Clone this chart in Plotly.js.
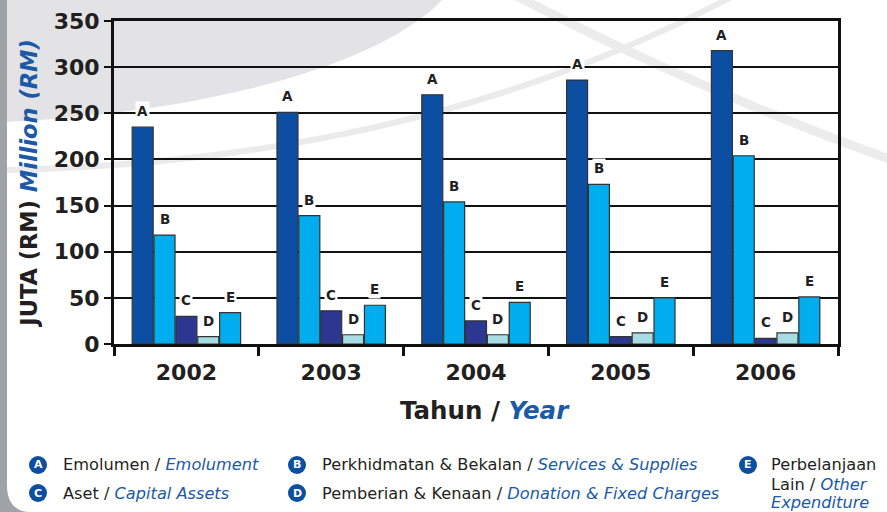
<!DOCTYPE html>
<html>
<head>
<meta charset="utf-8">
<script src="https://cdn.plot.ly/plotly-3.0.1.min.js"></script>
<style>html,body{margin:0;padding:0;background:#fff;}#chart{width:887px;height:512px;}</style>
</head>
<body>
<div id="chart"></div>
<script>
// ---- data ----
const years = ['2002', '2003', '2004', '2005', '2006'];
const letters = ['A', 'B', 'C', 'D', 'E'];
const valuesA = [235, 251, 270, 286, 318];
const valuesB = [118, 139, 154, 173, 204];
const valuesC = [30, 36, 25, 8, 6];
const valuesD = [8, 10, 10, 12, 12];
const valuesE = [34, 42, 45, 50, 51];
const namesMs = ['Emolumen', 'Perkhidmatan & Bekalan', 'Aset', 'Pemberian & Kenaan', 'Perbelanjaan<br>Lain'];
const namesEn = ['Emolument', 'Services & Supplies', 'Capital Assets', 'Donation & Fixed Charges', 'Other<br>Expenditure'];
const yTitleMs = 'JUTA (RM)';
const yTitleEn = 'Million (RM)';
const xTitleMs = 'Tahun';
const xTitleEn = 'Year';

// ---- style ----
const colors = ['#0c4ea2', '#00adee', '#2b3791', '#a8dce5', '#00adee'];
const blue = '#1a5aa8';
const ink = '#231f20';
const W = 887, H = 512, ML = 114, MR = 49, MT = 21, MB = 168;
const PW = W - ML - MR, PH = H - MT - MB;
const px = x => (x - ML) / PW;
const py = y => (H - MB - y) / PH;
const path = pts => pts.map(p => (typeof p === 'string') ? p : (px(p[0]).toFixed(4) + ',' + py(p[1]).toFixed(4))).join(' ');
const en = s => '<i><span style="color:' + blue + '">' + s + '</span></i>';

const allValues = [valuesA, valuesB, valuesC, valuesD, valuesE];
const bargap = 0.245, groupgap = 0.04;

const traces = allValues.map((vals, i) => ({
  type: 'bar',
  x: years,
  y: vals,
  name: letters[i],
  marker: {color: colors[i], line: {color: '#333333', width: 1.2}},
  hoverinfo: 'x+y+name'
}));

const annotations = [];
// bar letter labels
const slot = (1 - bargap) / allValues.length;
allValues.forEach((vals, i) => {
  vals.forEach((v, j) => {
    annotations.push({
      x: j - (1 - bargap) / 2 + slot * (i + 0.5), y: v, xref: 'x', yref: 'y',
      text: letters[i], showarrow: false, yanchor: 'bottom', yshift: 6,
      bgcolor: '#ffffff', borderpad: 1,
      font: {family: 'DejaVu Sans', size: 13.5, weight: 'bold', color: ink}
    });
  });
});

// x axis title
annotations.push({xref: 'paper', yref: 'paper', x: px(485), y: py(410), xanchor: 'center', yanchor: 'middle',
  showarrow: false,
  text: xTitleMs + ' / ' + en(xTitleEn),
  font: {family: 'DejaVu Sans', size: 24.5, weight: 'bold', color: ink}});

// legend (custom)
const legendPos = [[38, 465], [297, 465], [38, 493], [297, 493], [748, 465]];
const shapes = [];
// background decoration
shapes.push({type: 'path', xref: 'paper', yref: 'paper', layer: 'below', line: {width: 0}, fillcolor: '#e3e3e5',
  path: 'M ' + path([[5, 0], 'L', [442, 0], 'C', [380, 65], [210, 112], [5, 122]]) + ' Z'});
shapes.push({type: 'path', xref: 'paper', yref: 'paper', layer: 'below', line: {color: '#ebebeb', width: 6},
  path: 'M ' + path([[5, 170], 'C', [250, 165], [500, 120], [735, -5]])});
shapes.push({type: 'path', xref: 'paper', yref: 'paper', layer: 'below', line: {color: '#ececec', width: 9},
  path: 'M ' + path([[515, -5], 'C', [600, 40], [750, 110], [892, 160]])});
shapes.push({type: 'path', xref: 'paper', yref: 'paper', layer: 'below', line: {width: 0}, fillcolor: '#9fa2a6',
  path: 'M ' + path([[0, 0], 'L', [7, 0], 'L', [7, 485], 'Q', [7, 510], [28, 512], 'L', [0, 512]]) + ' Z'});

const lineStep = 19;
letters.forEach((L, i) => {
  const [cx, cy] = legendPos[i];
  shapes.push({type: 'circle', xref: 'paper', yref: 'paper', xsizemode: 'pixel', ysizemode: 'pixel',
    xanchor: px(cx), yanchor: py(cy), x0: -9, x1: 9, y0: -9, y1: 9,
    fillcolor: '#0c4ea2', line: {width: 0}});
  annotations.push({xref: 'paper', yref: 'paper', x: px(cx), y: py(cy), text: L, showarrow: false,
    xanchor: 'center', yanchor: 'middle',
    font: {family: 'DejaVu Sans', size: 11, weight: 'bold', color: '#ffffff'}});
  // compose legend lines (Malay part, then English part in blue italics)
  const msParts = namesMs[i].split('<br>');
  const enParts = namesEn[i].split('<br>');
  const lines = msParts.slice(0, -1)
    .concat([msParts[msParts.length - 1] + ' / ' + en(enParts[0])])
    .concat(enParts.slice(1).map(en));
  lines.forEach((txt, k) => {
    annotations.push({xref: 'paper', yref: 'paper', x: px(cx + (i === 4 ? 21 : 23)), y: py(cy + k * lineStep),
      text: txt, showarrow: false, xanchor: 'left', yanchor: 'middle', align: 'left',
      font: {family: 'DejaVu Sans', size: 16.2, color: ink}});
  });
});

const layout = {
  width: W, height: H,
  margin: {l: ML, r: MR, t: MT, b: MB, pad: 0},
  paper_bgcolor: '#ffffff', plot_bgcolor: 'rgba(0,0,0,0)',
  barmode: 'group', bargap: bargap, bargroupgap: groupgap,
  showlegend: false,
  font: {family: 'DejaVu Sans', color: ink},
  xaxis: {
    type: 'category', tickson: 'boundaries', ticks: 'outside', ticklen: 9, tickwidth: 3, tickcolor: '#111',
    showline: true, linewidth: 3, linecolor: '#111', mirror: true, showgrid: false,
    ticklabelstandoff: 7,
    tickfont: {family: 'DejaVu Sans', size: 22, weight: 'bold', color: ink}
  },
  yaxis: {
    range: [0, 350], dtick: 50, ticks: 'outside', ticklen: 7, tickwidth: 2, tickcolor: '#111',
    showline: true, linewidth: 3, linecolor: '#111', mirror: true,
    showgrid: true, gridcolor: '#111', gridwidth: 2, zeroline: false,
    tickfont: {family: 'DejaVu Sans', size: 22, weight: 'bold', color: ink},
    title: {text: yTitleMs + ' ' + en(yTitleEn), standoff: 10,
      font: {family: 'DejaVu Sans', size: 22.5, weight: 'bold', color: ink}}
  },
  shapes: shapes,
  annotations: annotations
};

Plotly.newPlot('chart', traces, layout, {displayModeBar: false, staticPlot: true});
</script>
</body>
</html>
